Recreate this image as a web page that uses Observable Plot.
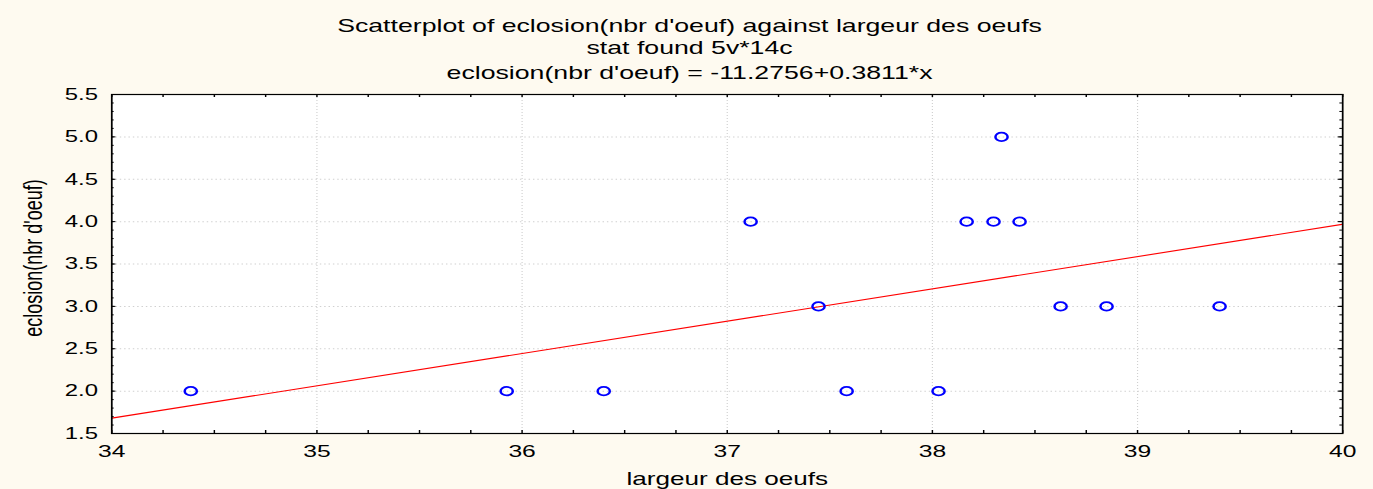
<!DOCTYPE html>
<html>
<head>
<meta charset="utf-8">
<script src="https://cdn.jsdelivr.net/npm/d3@7"></script>
<script src="https://cdn.jsdelivr.net/npm/@observablehq/plot@0.6"></script>
<style>
  html, body { margin: 0; padding: 0; background: #fefaf0; }
</style>
</head>
<body>
<div id="chart"></div>
<script>
// ---- data ----
const largeur = [34.385, 35.925, 36.398, 37.114, 37.445, 37.582, 38.030, 38.167, 38.298, 38.337, 38.425, 38.625, 38.849, 39.40];
const eclosion = [2, 2, 2, 4, 3, 2, 2, 4, 4, 5, 4, 3, 3, 3];
const intercept = -11.2756;
const slope = 0.3811;
const xTicks = [34, 35, 36, 37, 38, 39, 40];
const yTicks = [1.5, 2.0, 2.5, 3.0, 3.5, 4.0, 4.5, 5.0, 5.5];
const xGrid = [35, 36, 37, 38, 39];
const yGrid = [2.0, 2.5, 3.0, 3.5, 4.0, 4.5, 5.0];
const xMinor = d3.range(34, 40.0001, 0.25);
const yMinor = d3.range(15, 56).map(d => d / 10);
const titleLines = [
  "Scatterplot of eclosion(nbr d'oeuf) against largeur des oeufs",
  "stat found 5v*14c",
  "eclosion(nbr d'oeuf) = -11.2756+0.3811*x"
];
const xLabel = "largeur des oeufs";
const yLabel = "eclosion(nbr d'oeuf)";

const points = largeur.map((x, i) => ({x, y: eclosion[i]}));
const fitLine = [34, 40].map(x => ({x, y: intercept + slope * x}));

// ---- layout (virtual width, stretched horizontally to 1373) ----
const OUTW = 1373, H = 489;
const S = 1.4498;
const W = Math.round(OUTW / S);
const mL = 76.6, mR = 21.4, mT = 94, mB = 56;
const fw = W - mL - mR, fh = H - mT - mB;
const font = "'Liberation Sans', Arial, sans-serif";

const plot = Plot.plot({
  width: W,
  height: H,
  marginLeft: mL, marginRight: mR, marginTop: mT, marginBottom: mB,
  style: {background: "#fefaf0", fontFamily: font, color: "black", overflow: "visible"},
  x: {domain: [34, 40], axis: null, label: null},
  y: {domain: [1.5, 5.5], axis: null, label: null},
  marks: [
    Plot.frame({fill: "white", stroke: null}),
    Plot.ruleX(xGrid, {stroke: "#d0d0d0", strokeDasharray: "1 2", strokeWidth: 0.8}),
    Plot.ruleY(yGrid, {stroke: "#d0d0d0", strokeDasharray: "1 2", strokeWidth: 1}),
    Plot.line(fitLine, {x: "x", y: "y", stroke: "#ff0000", strokeWidth: 1.1, clip: true}),
    Plot.dot(points, {x: "x", y: "y", r: 4.2, stroke: "#0000ff", strokeWidth: 1.7, fill: "none"}),
    Plot.frame({stroke: "black", strokeWidth: 1.2}),
    // inward ticks
    Plot.ruleX(xMinor, {stroke: "black", insetTop: fh - 3}),
    Plot.ruleX(xMinor, {stroke: "black", insetBottom: fh - 3}),
    Plot.ruleY(yMinor, {stroke: "black", insetRight: fw - 1.8}),
    Plot.ruleY(yMinor, {stroke: "black", insetLeft: fw - 1.8}),
    Plot.ruleY(yTicks, {stroke: "black", insetRight: fw - 3}),
    Plot.ruleY(yTicks, {stroke: "black", insetLeft: fw - 3}),
    // axes labels
    Plot.axisX(xTicks, {tickSize: 0, tickPadding: 11, fontSize: 17, tickFormat: d3.format("d"), label: null}),
    Plot.axisY(yTicks, {tickSize: 0, tickPadding: 9.5, fontSize: 16.5, tickFormat: d3.format(".1f"), label: null}),
    Plot.text([xLabel], {text: d => d, frameAnchor: "bottom", dy: 46, fontSize: 18, lineAnchor: "middle"}),
    Plot.text([yLabel], {text: d => d, frameAnchor: "left", textAnchor: "middle", rotate: -90, dx: -54, dy: -6, fontSize: 18, lineAnchor: "middle"}),
    // titles
    Plot.text([titleLines[0]], {text: d => d, frameAnchor: "top", dx: -26, dy: -68, fontSize: 18.4, lineAnchor: "middle"}),
    Plot.text([titleLines[1]], {text: d => d, frameAnchor: "top", dx: -26, dy: -46, fontSize: 18.4, lineAnchor: "middle"}),
    Plot.text([titleLines[2]], {text: d => d, frameAnchor: "top", dx: -26, dy: -21.5, fontSize: 18.4, lineAnchor: "middle"})
  ]
});

plot.setAttribute("preserveAspectRatio", "none");
plot.setAttribute("width", OUTW);
plot.setAttribute("height", H);
plot.style.width = OUTW + "px";
plot.style.height = H + "px";
plot.style.maxWidth = "none";
document.getElementById("chart").appendChild(plot);
</script>
</body>
</html>
